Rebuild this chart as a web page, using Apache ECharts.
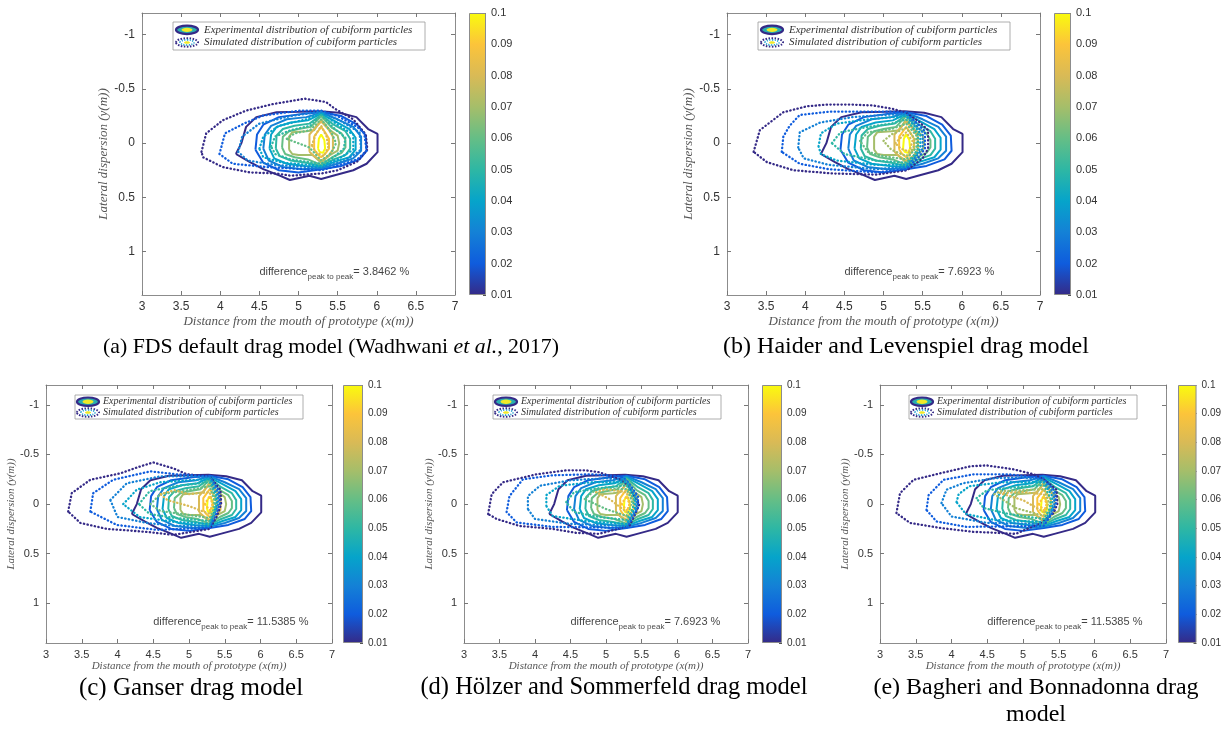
<!DOCTYPE html>
<html>
<head>
<meta charset="utf-8">
<script src="https://cdn.jsdelivr.net/npm/echarts@6/dist/echarts.min.js"></script>
<style>
  html, body { margin: 0; padding: 0; background: #fff; }
  #chart { width: 1224px; height: 729px; }
</style>
</head>
<body>
<div id="chart"></div>
<script>
// contour levels (colorbar 0.01 .. 0.1) and their parula colours
const levels = [0.01, 0.02, 0.03, 0.04, 0.05, 0.06, 0.07, 0.08, 0.09, 0.1];
const levelColors = ['#352a87', '#0f5cdd', '#1481d6', '#06a4ca', '#2eb7a4', '#65be86', '#a5be6a', '#d9ba56', '#fcc43a', '#f9fb0e'];
const yTicks = [-1, -0.5, 0, 0.5, 1];

// experimental distribution: the same solid contours in every panel
const expLevels = levels;
const expPaths = [
  [[4.2,0.1],[4.27,0.0],[4.33,-0.15],[4.46,-0.24],[4.72,-0.285],[5.01,-0.29],[5.27,-0.295],[5.52,-0.28],[5.74,-0.24],[5.89,-0.13],[6.01,-0.085],[6.01,0.083],[5.87,0.19],[5.7,0.25],[5.44,0.3],[5.29,0.33],[5.14,0.3],[4.89,0.34],[4.76,0.3],[4.55,0.24],[4.38,0.175],[4.2,0.1]],
  [[4.45,0.06],[4.47,-0.08],[4.55,-0.17],[4.75,-0.24],[5.05,-0.27],[5.29,-0.285],[5.55,-0.25],[5.75,-0.17],[5.86,-0.07],[5.87,0.07],[5.78,0.15],[5.55,0.21],[5.29,0.24],[5.0,0.27],[4.75,0.25],[4.55,0.18],[4.45,0.06]],
  [[4.55,0.05],[4.57,-0.08],[4.65,-0.16],[4.85,-0.22],[5.1,-0.24],[5.29,-0.28],[5.5,-0.22],[5.7,-0.15],[5.8,-0.06],[5.8,0.07],[5.7,0.14],[5.5,0.19],[5.29,0.23],[5.05,0.24],[4.8,0.22],[4.62,0.16],[4.55,0.05]],
  [[4.63,0.05],[4.65,-0.08],[4.72,-0.15],[4.9,-0.19],[5.12,-0.21],[5.29,-0.27],[5.47,-0.2],[5.65,-0.13],[5.73,-0.05],[5.73,0.06],[5.65,0.13],[5.47,0.17],[5.29,0.22],[5.08,0.21],[4.85,0.19],[4.69,0.14],[4.63,0.05]],
  [[4.71,0.05],[4.72,-0.07],[4.8,-0.13],[4.95,-0.16],[5.14,-0.18],[5.29,-0.26],[5.45,-0.17],[5.6,-0.11],[5.66,-0.04],[5.66,0.05],[5.6,0.11],[5.45,0.15],[5.29,0.21],[5.1,0.18],[4.9,0.16],[4.76,0.12],[4.71,0.05]],
  [[4.79,0.04],[4.8,-0.06],[4.88,-0.11],[5.0,-0.13],[5.16,-0.15],[5.29,-0.25],[5.43,-0.14],[5.55,-0.09],[5.6,-0.03],[5.6,0.04],[5.55,0.09],[5.43,0.13],[5.29,0.2],[5.12,0.15],[4.95,0.13],[4.83,0.1],[4.79,0.04]],
  [[4.88,0.06],[4.88,-0.06],[4.92,-0.1],[5.1,-0.11],[5.2,-0.12],[5.29,-0.22],[5.4,-0.12],[5.5,-0.07],[5.52,0.0],[5.5,0.07],[5.4,0.11],[5.29,0.18],[5.18,0.11],[5.0,0.11],[4.92,0.1],[4.88,0.06]],
  [[5.14,0.08],[5.14,-0.08],[5.2,-0.13],[5.29,-0.2],[5.38,-0.13],[5.44,-0.06],[5.44,0.06],[5.38,0.12],[5.29,0.16],[5.2,0.12],[5.14,0.08]],
  [[5.2,0.06],[5.2,-0.06],[5.25,-0.11],[5.29,-0.15],[5.34,-0.1],[5.39,-0.04],[5.39,0.05],[5.34,0.1],[5.29,0.13],[5.24,0.1],[5.2,0.06]],
  [[5.25,0.05],[5.26,-0.04],[5.29,-0.08],[5.33,-0.03],[5.34,0.05],[5.31,0.09],[5.27,0.08],[5.25,0.05]]
];

// simulated distributions (dotted), one set per drag model
const simLevelsA = [0.01, 0.02, 0.03, 0.04, 0.05, 0.06, 0.08];
const simPathsA = [
  [[3.76,0.08],[3.82,-0.09],[4.03,-0.21],[4.33,-0.3],[4.67,-0.36],[5.08,-0.41],[5.35,-0.38],[5.46,-0.32],[5.7,-0.22],[5.86,-0.08],[5.88,0.06],[5.75,0.17],[5.5,0.25],[5.29,0.28],[4.9,0.3],[4.72,0.28],[4.38,0.27],[4.03,0.22],[3.78,0.13],[3.76,0.08]],
  [[3.99,0.1],[4.06,-0.09],[4.3,-0.18],[4.55,-0.255],[5.01,-0.3],[5.29,-0.3],[5.5,-0.25],[5.75,-0.15],[5.84,-0.09],[5.87,0.07],[5.75,0.15],[5.44,0.22],[5.29,0.25],[4.59,0.22],[4.16,0.19],[3.99,0.1]],
  [[4.23,0.08],[4.28,-0.06],[4.5,-0.18],[4.9,-0.25],[5.29,-0.29],[5.55,-0.2],[5.78,-0.1],[5.8,0.06],[5.6,0.16],[5.29,0.23],[4.7,0.2],[4.35,0.16],[4.23,0.08]],
  [[4.5,0.05],[4.55,-0.06],[4.75,-0.16],[5.1,-0.22],[5.29,-0.28],[5.5,-0.17],[5.7,-0.08],[5.7,0.06],[5.5,0.15],[5.29,0.21],[4.8,0.18],[4.55,0.13],[4.5,0.05]],
  [[4.65,0.03],[4.7,-0.06],[4.9,-0.12],[5.15,-0.16],[5.29,-0.26],[5.45,-0.14],[5.6,-0.05],[5.58,0.05],[5.45,0.13],[5.29,0.19],[4.9,0.15],[4.7,0.1],[4.65,0.03]],
  [[4.85,-0.04],[4.95,-0.09],[5.15,-0.12],[5.29,-0.22],[5.42,-0.1],[5.48,0.0],[5.42,0.09],[5.29,0.16],[5.14,0.04],[4.85,-0.04]],
  [[5.17,0.02],[5.22,-0.08],[5.29,-0.16],[5.36,-0.06],[5.38,0.04],[5.32,0.12],[5.22,0.08],[5.17,0.02]]
];
const simLevelsB = [0.01, 0.02, 0.03, 0.04, 0.05, 0.06, 0.07, 0.08];
const simPathsB = [
  [[3.34,0.08],[3.42,-0.12],[3.72,-0.285],[4.02,-0.34],[4.29,-0.356],[4.57,-0.356],[4.87,-0.347],[5.12,-0.316],[5.29,-0.28],[5.45,-0.2],[5.57,-0.12],[5.57,0.05],[5.5,0.14],[5.3,0.25],[4.9,0.29],[4.36,0.28],[3.85,0.25],[3.51,0.175],[3.34,0.08]],
  [[3.7,0.08],[3.72,-0.06],[3.8,-0.16],[3.93,-0.26],[4.3,-0.29],[4.8,-0.29],[5.1,-0.29],[5.29,-0.28],[5.42,-0.19],[5.53,-0.11],[5.53,0.05],[5.45,0.13],[5.29,0.24],[4.9,0.27],[4.3,0.24],[3.93,0.19],[3.7,0.08]],
  [[3.91,0.04],[3.93,-0.1],[4.19,-0.19],[4.6,-0.24],[5.0,-0.26],[5.29,-0.27],[5.4,-0.18],[5.5,-0.1],[5.5,0.05],[5.42,0.12],[5.29,0.22],[4.9,0.24],[4.3,0.2],[3.98,0.14],[3.91,0.04]],
  [[4.17,0.03],[4.2,-0.09],[4.4,-0.18],[4.8,-0.22],[5.29,-0.25],[5.38,-0.17],[5.47,-0.09],[5.47,0.05],[5.4,0.12],[5.29,0.2],[4.9,0.2],[4.4,0.16],[4.2,0.1],[4.17,0.03]],
  [[4.34,0.0],[4.45,-0.1],[4.8,-0.15],[5.1,-0.18],[5.29,-0.22],[5.44,-0.08],[5.44,0.05],[5.38,0.12],[5.29,0.18],[4.9,0.16],[4.5,0.1],[4.34,0.0]],
  [[4.7,-0.02],[4.8,-0.1],[5.1,-0.13],[5.29,-0.18],[5.42,-0.07],[5.42,0.04],[5.29,0.15],[5.0,0.12],[4.8,0.08],[4.7,-0.02]],
  [[5.0,-0.02],[5.1,-0.08],[5.29,-0.14],[5.4,-0.04],[5.38,0.05],[5.29,0.12],[5.1,0.06],[5.0,-0.02]],
  [[5.15,0.0],[5.29,-0.1],[5.37,-0.02],[5.33,0.08],[5.22,0.05],[5.15,0.0]]
];
const simLevelsC = [0.01, 0.02, 0.03, 0.04, 0.05, 0.06, 0.08, 0.09];
const simPathsC = [
  [[3.31,0.075],[3.36,-0.11],[3.62,-0.245],[4.04,-0.31],[4.32,-0.38],[4.5,-0.42],[4.78,-0.36],[4.97,-0.3],[5.29,-0.28],[5.44,-0.145],[5.45,0.0],[5.39,0.125],[5.29,0.25],[4.78,0.31],[4.41,0.28],[3.85,0.25],[3.48,0.19],[3.31,0.075]],
  [[3.62,0.075],[3.66,-0.11],[3.94,-0.245],[4.46,-0.33],[4.83,-0.3],[5.29,-0.28],[5.42,-0.13],[5.43,0.0],[5.37,0.12],[5.29,0.24],[4.55,0.26],[3.99,0.21],[3.62,0.075]],
  [[3.9,-0.04],[4.13,-0.21],[4.6,-0.28],[5.0,-0.28],[5.29,-0.27],[5.4,-0.12],[5.41,0.0],[5.35,0.11],[5.29,0.22],[4.8,0.22],[4.41,0.19],[4.0,0.13],[3.9,-0.04]],
  [[4.08,0.0],[4.27,-0.145],[4.6,-0.22],[5.0,-0.24],[5.29,-0.25],[5.38,-0.1],[5.39,0.0],[5.34,0.1],[5.29,0.2],[4.8,0.18],[4.31,0.13],[4.08,0.0]],
  [[4.3,0.0],[4.45,-0.13],[4.8,-0.18],[5.29,-0.22],[5.37,-0.08],[5.36,0.08],[5.29,0.17],[4.8,0.14],[4.45,0.1],[4.3,0.0]],
  [[4.46,0.0],[4.6,-0.1],[4.9,-0.13],[5.29,-0.18],[5.35,-0.05],[5.34,0.06],[5.29,0.14],[4.9,0.1],[4.6,0.07],[4.46,0.0]],
  [[4.6,-0.1],[4.8,-0.14],[5.0,-0.1],[5.29,-0.12],[5.33,0.0],[5.29,0.1],[5.0,0.02],[4.7,-0.04],[4.6,-0.1]],
  [[5.22,0.0],[5.29,-0.08],[5.33,0.0],[5.3,0.07],[5.22,0.0]]
];
const simLevelsD = [0.01, 0.02, 0.03, 0.04, 0.05, 0.06, 0.08, 0.09];
const simPathsD = [
  [[3.34,0.1],[3.39,-0.1],[3.55,-0.22],[4.02,-0.3],[4.44,-0.34],[4.72,-0.34],[4.91,-0.32],[5.19,-0.25],[5.29,-0.2],[5.47,0.0],[5.4,0.12],[5.33,0.22],[4.9,0.3],[4.58,0.29],[4.25,0.25],[3.78,0.22],[3.46,0.15],[3.34,0.1]],
  [[3.6,0.08],[3.64,-0.08],[3.83,-0.25],[4.25,-0.29],[4.8,-0.3],[5.2,-0.28],[5.29,-0.24],[5.45,-0.08],[5.45,0.04],[5.38,0.13],[5.29,0.24],[4.25,0.23],[3.74,0.185],[3.6,0.08]],
  [[3.9,0.05],[3.9,-0.08],[4.07,-0.185],[4.5,-0.24],[5.0,-0.26],[5.29,-0.24],[5.43,-0.07],[5.43,0.04],[5.36,0.12],[5.29,0.22],[4.5,0.2],[4.0,0.15],[3.9,0.05]],
  [[4.16,0.02],[4.16,-0.09],[4.35,-0.185],[4.8,-0.22],[5.29,-0.22],[5.41,-0.06],[5.41,0.04],[5.29,0.2],[4.7,0.17],[4.25,0.12],[4.16,0.02]],
  [[4.44,-0.02],[4.55,-0.12],[4.9,-0.16],[5.29,-0.19],[5.39,-0.05],[5.38,0.04],[5.29,0.16],[4.9,0.13],[4.55,0.08],[4.44,-0.02]],
  [[4.7,-0.05],[4.86,-0.15],[5.1,-0.15],[5.29,-0.15],[5.37,-0.03],[5.29,0.12],[5.0,0.05],[4.7,-0.05]],
  [[4.86,-0.12],[5.0,-0.15],[5.29,-0.12],[5.34,0.0],[5.29,0.08],[5.05,-0.05],[4.86,-0.12]],
  [[5.22,0.0],[5.29,-0.08],[5.33,0.0],[5.3,0.07],[5.22,0.0]]
];
const simLevelsE = [0.01, 0.02, 0.03, 0.04, 0.05, 0.07, 0.08, 0.09];
const simPathsE = [
  [[3.23,0.09],[3.28,-0.11],[3.47,-0.245],[3.84,-0.31],[4.26,-0.38],[4.49,-0.39],[4.87,-0.35],[5.15,-0.3],[5.29,-0.25],[5.47,-0.145],[5.48,0.0],[5.43,0.09],[5.25,0.19],[4.9,0.3],[4.63,0.29],[4.31,0.28],[3.84,0.24],[3.42,0.19],[3.23,0.09]],
  [[3.65,0.06],[3.68,-0.09],[3.89,-0.245],[4.31,-0.3],[4.8,-0.3],[5.29,-0.26],[5.45,-0.13],[5.46,0.0],[5.4,0.1],[5.29,0.22],[4.21,0.23],[3.79,0.175],[3.65,0.06]],
  [[3.86,-0.01],[3.93,-0.145],[4.16,-0.21],[4.6,-0.26],[5.0,-0.27],[5.29,-0.24],[5.43,-0.11],[5.44,0.0],[5.38,0.1],[5.29,0.2],[4.5,0.19],[4.0,0.125],[3.86,-0.01]],
  [[4.07,-0.02],[4.1,-0.1],[4.25,-0.18],[4.7,-0.22],[5.29,-0.22],[5.41,-0.08],[5.41,0.04],[5.29,0.18],[4.6,0.16],[4.2,0.1],[4.07,-0.02]],
  [[4.35,-0.06],[4.5,-0.14],[4.9,-0.17],[5.29,-0.19],[5.39,-0.05],[5.37,0.05],[5.29,0.15],[4.8,0.1],[4.45,0.04],[4.35,-0.06]],
  [[4.6,-0.1],[4.68,-0.13],[5.0,-0.14],[5.29,-0.15],[5.36,-0.02],[5.29,0.12],[4.9,0.04],[4.6,-0.1]],
  [[4.68,-0.11],[5.0,-0.12],[5.29,-0.1],[5.34,0.0],[5.29,0.08],[5.0,-0.04],[4.68,-0.11]],
  [[5.22,0.0],[5.29,-0.08],[5.33,0.0],[5.3,0.07],[5.22,0.0]]
];

const diffValues = ['3.8462', '7.6923', '11.5385', '7.6923', '11.5385'];
const diffAt = [4.5, 1.19];
const captions = [
  ['(a) FDS default drag model (Wadhwani {i|et al.}, 2017)'],
  ['(b) Haider and Levenspiel drag model'],
  ['(c) Ganser drag model'],
  ['(d) Hölzer and Sommerfeld drag model'],
  ['(e) Bagheri and Bonnadonna drag', 'model']
];

// layout of the five panels (pixels)
const panels = [
  { box: [142, 13, 313, 282], cbar: [469, 17], cap: [331, 347, 21.8], big: true, sim: simPathsA, simLv: simLevelsA },
  { box: [727, 13, 313, 282], cbar: [1054, 17], cap: [906, 347, 24], big: true, sim: simPathsB, simLv: simLevelsB },
  { box: [46, 385, 286, 258], cbar: [343, 20], cap: [191, 688, 25], big: false, sim: simPathsC, simLv: simLevelsC },
  { box: [464, 385, 284, 258], cbar: [762, 20], cap: [614, 688, 24.5], big: false, sim: simPathsD, simLv: simLevelsD },
  { box: [880, 385, 286, 258], cbar: [1178, 20], cap: [1036, 688, 24], big: false, sim: simPathsE, simLv: simLevelsE }
];

const serif = "'Liberation Serif', 'DejaVu Serif', serif";
const sans = "'Liberation Sans', Arial, sans-serif";
const colorOf = v => levelColors[Math.round(v * 100) - 1];
const cbarStops = levelColors.map((c, k) => ({ offset: 1 - k / (levelColors.length - 1), color: c }));

const chart = echarts.init(document.getElementById('chart'));
const grid = [], xAxis = [], yAxis = [], series = [], graphic = [];

panels.forEach((p, i) => {
  const [L, T, W, H] = p.box;
  const fs = p.big ? 12 : 11;
  grid.push({ left: L, top: T, width: W, height: H });
  grid.push({ left: p.cbar[0], top: T, width: p.cbar[1], height: H });
  const g = grid.length - 2;
  const xi = xAxis.length, yi = yAxis.length;
  const axisLine = { show: true, onZero: false, lineStyle: { color: '#8c8c8c', width: 1 } };
  const tick = { show: true, inside: true, length: 4, lineStyle: { color: '#777' } };
  const nameStyle = { fontFamily: serif, fontStyle: 'italic', fontSize: p.big ? 13 : 11, color: '#555' };

  xAxis.push({
    gridIndex: g, type: 'value', min: 3, max: 7, interval: 0.5, position: 'bottom',
    axisLine, axisTick: tick, splitLine: { show: false },
    axisLabel: { fontFamily: sans, fontSize: fs, color: '#333', margin: 6 },
    name: 'Distance from the mouth of prototype (x(m))', nameLocation: 'middle',
    nameGap: p.big ? 20 : 17, nameTextStyle: nameStyle
  });
  xAxis.push({
    gridIndex: g, type: 'value', min: 3, max: 7, interval: 0.5, position: 'top',
    axisLine, axisTick: tick, axisLabel: { show: false }, splitLine: { show: false }
  });
  xAxis.push({ gridIndex: g + 1, type: 'category', data: ['cb'], show: false });

  yAxis.push({
    gridIndex: g, type: 'value', inverse: true, min: -1.2, max: 1.4, position: 'left',
    axisLine, axisTick: Object.assign({ customValues: yTicks }, tick), splitLine: { show: false },
    axisLabel: { customValues: yTicks, fontFamily: sans, fontSize: fs, color: '#333', margin: 7 },
    name: 'Lateral dispersion (y(m))', nameLocation: 'middle', nameRotate: 90,
    nameGap: p.big ? 26 : 23, nameTextStyle: nameStyle
  });
  yAxis.push({
    gridIndex: g, type: 'value', inverse: true, min: -1.2, max: 1.4, position: 'right',
    axisLine, axisTick: Object.assign({ customValues: yTicks }, tick),
    axisLabel: { show: false }, splitLine: { show: false }
  });
  yAxis.push({
    gridIndex: g + 1, type: 'value', min: levels[0], max: levels[levels.length - 1], interval: 0.01,
    position: 'right', axisLine: { show: false }, splitLine: { show: false },
    axisTick: { show: true, inside: true, length: 3, lineStyle: { color: '#555' } },
    axisLabel: { fontFamily: sans, fontSize: p.big ? 11 : 10, color: '#333', margin: 5 }
  });

  // experimental: solid contours
  expPaths.forEach((path, k) => series.push({
    type: 'line', xAxisIndex: xi, yAxisIndex: yi, data: path, symbol: 'none', silent: true,
    lineStyle: { color: colorOf(expLevels[k]), width: 2 }
  }));
  // simulated: dotted contours
  p.sim.forEach((path, k) => series.push({
    type: 'line', xAxisIndex: xi, yAxisIndex: yi, data: path, symbol: 'none', silent: true,
    lineStyle: { color: colorOf(p.simLv[k]), width: 2.3, type: [0.4, 3.3], cap: 'round' }
  }));
  // peak-to-peak difference note
  series.push({
    type: 'scatter', xAxisIndex: xi, yAxisIndex: yi, data: [diffAt], symbolSize: 0, silent: true,
    label: {
      show: true, position: 'right', distance: 0,
      formatter: 'difference{s|peak to peak}= ' + diffValues[i] + ' %',
      fontFamily: sans, fontSize: 11, color: '#111',
      rich: { s: { fontFamily: sans, fontSize: 8, color: '#111', padding: [9, 0, 0, 0] } }
    }
  });
  // colorbar
  series.push({
    type: 'bar', xAxisIndex: xi + 2, yAxisIndex: yi + 2, stack: 'cb' + i, data: [levels[0]],
    barWidth: '100%', silent: true, itemStyle: { color: 'rgba(0,0,0,0)' }
  });
  series.push({
    type: 'bar', xAxisIndex: xi + 2, yAxisIndex: yi + 2, stack: 'cb' + i,
    data: [+(levels[levels.length - 1] - levels[0]).toFixed(2)],
    barWidth: '100%', silent: true,
    itemStyle: { color: new echarts.graphic.LinearGradient(0, 0, 0, 1, cbarStops), borderColor: '#8c8c8c', borderWidth: 1 }
  });

  // legend box
  const lx = L + (p.big ? 31 : 29), ly = T + (p.big ? 9 : 10);
  const lw = p.big ? 252 : 228, lh = p.big ? 28 : 24;
  const ix = lx + (p.big ? 14 : 13), r1 = ly + lh * 0.28, r2 = ly + lh * 0.73;
  const tx = lx + (p.big ? 31 : 28);
  const lfs = p.big ? 11 : 10;
  graphic.push(
    { type: 'rect', shape: { x: lx, y: ly, width: lw, height: lh }, style: { fill: '#fff', stroke: '#999', lineWidth: 0.8 }, z: 10 },
    { type: 'ellipse', shape: { cx: ix, cy: r1, rx: 11, ry: 4.2 }, style: { fill: '#2aaeb0', stroke: '#352a87', lineWidth: 2.2 }, z: 11 },
    { type: 'ellipse', shape: { cx: ix, cy: r1, rx: 5.5, ry: 2.2 }, style: { fill: '#f0ea28' }, z: 12 },
    { type: 'ellipse', shape: { cx: ix, cy: r2, rx: 11, ry: 4.2 }, style: { fill: 'none', stroke: '#352a87', lineWidth: 2, lineDash: [1.5, 1.5] }, z: 11 },
    { type: 'ellipse', shape: { cx: ix, cy: r2, rx: 7, ry: 2.6 }, style: { fill: 'none', stroke: '#1e9fd0', lineWidth: 1.6, lineDash: [1.2, 1.4] }, z: 11 },
    { type: 'ellipse', shape: { cx: ix, cy: r2, rx: 3, ry: 1.3 }, style: { fill: '#f0ea28' }, z: 12 },
    { type: 'text', x: tx, y: r1, style: { text: 'Experimental distribution of cubiform particles', fontFamily: serif, fontStyle: 'italic', fontSize: lfs, fill: '#333', verticalAlign: 'middle' }, z: 12 },
    { type: 'text', x: tx, y: r2, style: { text: 'Simulated distribution of cubiform particles', fontFamily: serif, fontStyle: 'italic', fontSize: lfs, fill: '#333', verticalAlign: 'middle' }, z: 12 }
  );

  // caption
  const cfs = p.cap[2];
  captions[i].forEach((line, n) => graphic.push({
    type: 'text', x: p.cap[0], y: p.cap[1] + n * 27,
    style: {
      text: line, fontFamily: serif, fontSize: cfs, fill: '#000', align: 'center', verticalAlign: 'middle',
      rich: { i: { fontFamily: serif, fontSize: cfs, fontStyle: 'italic', fill: '#000' } }
    }
  }));
});

chart.setOption({
  animation: false,
  backgroundColor: '#fff',
  grid, xAxis, yAxis, series, graphic
});
</script>
</body>
</html>
